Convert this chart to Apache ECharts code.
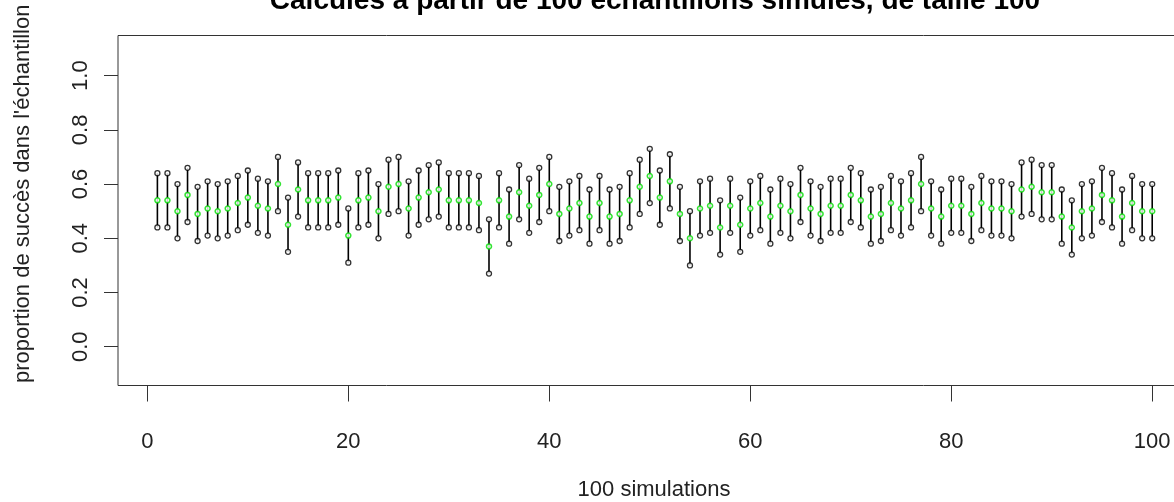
<!DOCTYPE html>
<html><head><meta charset="utf-8">
<script src="https://cdn.jsdelivr.net/npm/echarts@6/dist/echarts.min.js"></script>
<style>html,body{margin:0;padding:0;background:#fff;overflow:hidden}#c{width:1230px;height:502px}</style>
</head><body><div id="c"></div>
<script>
const simulations = [1,2,3,4,5,6,7,8,9,10,11,12,13,14,15,16,17,18,19,20,21,22,23,24,25,26,27,28,29,30,31,32,33,34,35,36,37,38,39,40,41,42,43,44,45,46,47,48,49,50,51,52,53,54,55,56,57,58,59,60,61,62,63,64,65,66,67,68,69,70,71,72,73,74,75,76,77,78,79,80,81,82,83,84,85,86,87,88,89,90,91,92,93,94,95,96,97,98,99,100];
const frequences = [0.54,0.54,0.50,0.56,0.49,0.51,0.50,0.51,0.53,0.55,
0.52,0.51,0.60,0.45,0.58,0.54,0.54,0.54,0.55,0.41,
0.54,0.55,0.50,0.59,0.60,0.51,0.55,0.57,0.58,0.54,
0.54,0.54,0.53,0.37,0.54,0.48,0.57,0.52,0.56,0.60,
0.49,0.51,0.53,0.48,0.53,0.48,0.49,0.54,0.59,0.63,
0.55,0.61,0.49,0.40,0.51,0.52,0.44,0.52,0.45,0.51,
0.53,0.48,0.52,0.50,0.56,0.51,0.49,0.52,0.52,0.56,
0.54,0.48,0.49,0.53,0.51,0.54,0.60,0.51,0.48,0.52,
0.52,0.49,0.53,0.51,0.51,0.50,0.58,0.59,0.57,0.57,
0.48,0.44,0.50,0.51,0.56,0.54,0.48,0.53,0.50,0.50];
const bornesInf = [0.44,0.44,0.40,0.46,0.39,0.41,0.40,0.41,0.43,0.45,
0.42,0.41,0.50,0.35,0.48,0.44,0.44,0.44,0.45,0.31,
0.44,0.45,0.40,0.49,0.50,0.41,0.45,0.47,0.48,0.44,
0.44,0.44,0.43,0.27,0.44,0.38,0.47,0.42,0.46,0.50,
0.39,0.41,0.43,0.38,0.43,0.38,0.39,0.44,0.49,0.53,
0.45,0.51,0.39,0.30,0.41,0.42,0.34,0.42,0.35,0.41,
0.43,0.38,0.42,0.40,0.46,0.41,0.39,0.42,0.42,0.46,
0.44,0.38,0.39,0.43,0.41,0.44,0.50,0.41,0.38,0.42,
0.42,0.39,0.43,0.41,0.41,0.40,0.48,0.49,0.47,0.47,
0.38,0.34,0.40,0.41,0.46,0.44,0.38,0.43,0.40,0.40];
const bornesSup = [0.64,0.64,0.60,0.66,0.59,0.61,0.60,0.61,0.63,0.65,
0.62,0.61,0.70,0.55,0.68,0.64,0.64,0.64,0.65,0.51,
0.64,0.65,0.60,0.69,0.70,0.61,0.65,0.67,0.68,0.64,
0.64,0.64,0.63,0.47,0.64,0.58,0.67,0.62,0.66,0.70,
0.59,0.61,0.63,0.58,0.63,0.58,0.59,0.64,0.69,0.73,
0.65,0.71,0.59,0.50,0.61,0.62,0.54,0.62,0.55,0.61,
0.63,0.58,0.62,0.60,0.66,0.61,0.59,0.62,0.62,0.66,
0.64,0.58,0.59,0.63,0.61,0.64,0.70,0.61,0.58,0.62,
0.62,0.59,0.63,0.61,0.61,0.60,0.68,0.69,0.67,0.67,
0.58,0.54,0.60,0.61,0.66,0.64,0.58,0.63,0.60,0.60];
const xTicks = [0,20,40,60,80,100];
const yTicks = [0,0.2,0.4,0.6,0.8,1.0];
const titre = "Calculés à partir de 100 échantillons simulés, de taille 100";
const xTitre = "100 simulations";
const yTitre = "proportion de succès dans l'échantillon";

const FONT = "'Liberation Sans', Arial, sans-serif";
const chart = echarts.init(document.getElementById('c'), null, {renderer:'canvas'});
const segData = simulations.map((s,i)=>[s, bornesInf[i], bornesSup[i]]);
const hollow = (col, w)=>({color:'#fff', borderColor:col, borderWidth:w});
chart.setOption({
  animation:false,
  backgroundColor:'#fff',
  grid:{left:118, top:35.5, width:1074, height:350, show:true, borderColor:'#333', borderWidth:1, backgroundColor:'transparent'},
  xAxis:{type:'value', min:-2.92, max:103.96,
    axisLine:{show:false, onZero:false}, splitLine:{show:false},
    axisTick:{show:true, inside:false, length:16, customValues:xTicks, lineStyle:{color:'#333', width:1}},
    axisLabel:{customValues:xTicks, fontSize:22, color:'#222', margin:45, fontFamily:FONT}
  },
  yAxis:{type:'value', min:-0.143, max:1.148,
    axisLine:{show:false, onZero:false}, splitLine:{show:false},
    axisTick:{show:true, inside:false, length:14, customValues:yTicks, lineStyle:{color:'#333', width:1}},
    axisLabel:{customValues:yTicks, rotate:90, fontSize:22, color:'#222', margin:26, fontFamily:FONT,
      formatter:(v)=>Number(v).toFixed(1)}
  },
  graphic:[
    {type:'text', x:655, y:1, style:{text:titre, font:"bold 28px "+FONT, fill:'#000', textAlign:'center', textVerticalAlign:'middle'}},
    {type:'text', x:654, y:490, style:{text:xTitre, font:"22px "+FONT, fill:'#222', textAlign:'center', textVerticalAlign:'middle'}},
    {type:'text', x:23, y:383, rotation:Math.PI/2, style:{text:yTitre, font:"22px "+FONT, fill:'#222', textAlign:'left', textVerticalAlign:'middle'}}
  ],
  series:[
    {type:'custom', silent:true, data:segData, encode:{x:0, y:[1,2]},
     renderItem:(params, api)=>{
       const a = api.coord([api.value(0), api.value(1)]);
       const b = api.coord([api.value(0), api.value(2)]);
       return {type:'line', shape:{x1:a[0], y1:a[1], x2:b[0], y2:b[1]}, style:{stroke:'#000', lineWidth:1.6}};
     }},
    {type:'scatter', silent:true, symbol:'circle', symbolSize:5, itemStyle:hollow('#000', 1.3),
     data:simulations.map((s,i)=>[s, bornesInf[i]])},
    {type:'scatter', silent:true, symbol:'circle', symbolSize:5, itemStyle:hollow('#000', 1.3),
     data:simulations.map((s,i)=>[s, bornesSup[i]])},
    {type:'scatter', silent:true, symbol:'circle', symbolSize:5, itemStyle:hollow('#00dd00', 1.5),
     data:simulations.map((s,i)=>[s, frequences[i]])}
  ]
});
</script></body></html>
